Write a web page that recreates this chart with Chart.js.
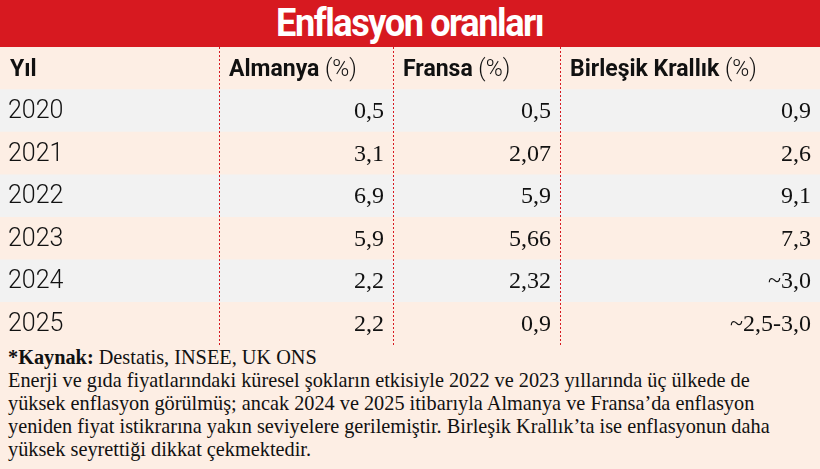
<!DOCTYPE html>
<html><head><meta charset="utf-8">
<script src="https://cdn.jsdelivr.net/npm/chart.js@4"></script>
<style>
body{margin:0;width:820px;height:469px;overflow:hidden;background:#fff;font-family:Roboto,sans-serif}
#baslik{height:47px;background:#d71920;color:#fff;text-align:center;font:bold 38px Roboto;line-height:47px;letter-spacing:-1.5px}
#baslik span{display:inline-block;transform:scaleX(0.95)}
#kutu{position:relative;width:820px;height:298px}
#not{background:#fdeee4;height:124px;padding:1px 8px 0 8px;box-sizing:border-box;font:20.3px "Liberation Serif",serif;line-height:23px;color:#111}
</style></head><body>
<div id="baslik"><span>Enflasyon oranları</span></div>
<div id="kutu"><canvas id="tablo"></canvas></div>
<div id="not"><b>*Kaynak:</b> Destatis, INSEE, UK ONS<br>Enerji ve gıda fiyatlarındaki küresel şokların etkisiyle 2022 ve 2023 yıllarında üç ülkede de yüksek enflasyon görülmüş; ancak 2024 ve 2025 itibarıyla Almanya ve Fransa’da enflasyon yeniden fiyat istikrarına yakın seviyelere gerilemiştir. Birleşik Krallık’ta ise enflasyonun daha yüksek seyrettiği dikkat çekmektedir.</div>
<script>
// veriler
var yillar = ['2020','2021','2022','2023','2024','2025']
var almanya = ['0,5','3,1','6,9','5,9','2,2','2,2']
var fransa = ['0,5','2,07','5,9','5,66','2,32','0,9']
var birlesikKrallik = ['0,9','2,6','9,1','7,3','~3,0','~2,5-3,0']
var basliklar = [['Yıl',''],['Almanya',' (%)'],['Fransa',' (%)'],['Birleşik Krallık',' (%)']]

// sütun sınırları (0..820)
var sutunlar = [0, 219, 393, 560, 820]
var satirlar = ['baslik'].concat(yillar)

var tabloEklentisi = {
  id: 'tabloYazi',
  afterDatasetsDraw: function (chart) {
    var ctx = chart.ctx, x = chart.scales.x, y = chart.scales.y
    ctx.save()
    // noktalı ayraçlar
    ctx.strokeStyle = '#d71920'; ctx.lineWidth = 1; ctx.setLineDash([2, 2])
    for (var k = 1; k < 4; k++) {
      var px = Math.round(x.getPixelForValue(sutunlar[k])) + 0.5
      ctx.beginPath(); ctx.moveTo(px, y.top); ctx.lineTo(px, y.bottom); ctx.stroke()
    }
    ctx.setLineDash([])
    ctx.textBaseline = 'middle'; ctx.fillStyle = '#111'
    // başlık satırı
    var yb = y.getPixelForValue(0) + 2
    for (var c = 0; c < 4; c++) {
      var sx = x.getPixelForValue(sutunlar[c]) + 10
      ctx.textAlign = 'left'
      ctx.font = 'bold 23px Roboto'
      var w1 = ctx.measureText(basliklar[c][0]).width
      ctx.fillText(basliklar[c][0], sx, yb)
      ctx.font = '300 23px Roboto'; ctx.fillText(basliklar[c][1], sx + w1, yb)
    }
    var sutunVerisi = [almanya, fransa, birlesikKrallik]
    for (var i = 0; i < yillar.length; i++) {
      var py = y.getPixelForValue(i + 1) + 1
      ctx.font = '300 25px Roboto'; ctx.textAlign = 'left'
      ctx.fillText(yillar[i], x.getPixelForValue(sutunlar[0]) + 8, py)
      ctx.font = '24px "Liberation Serif", serif'; ctx.textAlign = 'right'
      for (var j = 0; j < 3; j++) {
        ctx.fillText(sutunVerisi[j][i], x.getPixelForValue(sutunlar[j + 2]) - 9, py)
      }
    }
    ctx.restore()
  }
}

new Chart(document.getElementById('tablo'), {
  type: 'bar',
  data: {
    labels: satirlar,
    datasets: [{
      data: satirlar.map(function () { return [sutunlar[0], sutunlar[4]] }),
      backgroundColor: satirlar.map(function (s, i) { return i % 2 === 0 ? '#fdeee4' : '#f2f2f2' }),
      barPercentage: 1, categoryPercentage: 1, borderWidth: 0
    }]
  },
  options: {
    indexAxis: 'y', responsive: true, maintainAspectRatio: false, animation: false,
    layout: { padding: 0 },
    plugins: { legend: { display: false }, tooltip: { enabled: false } },
    scales: {
      x: { type: 'linear', min: 0, max: 820, display: false },
      y: { display: false, offset: true, grid: { offset: true } }
    }
  },
  plugins: [tabloEklentisi]
})
</script>
</body></html>
